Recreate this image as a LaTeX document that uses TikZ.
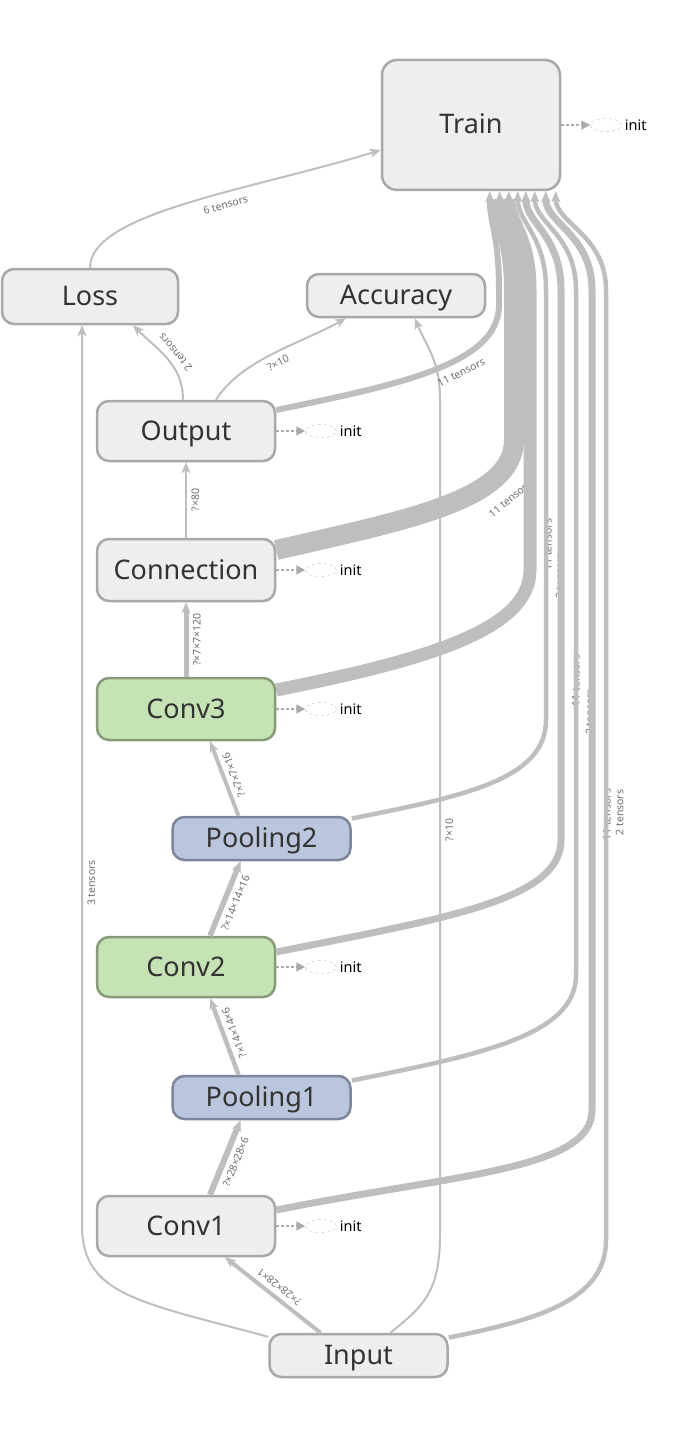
\documentclass[tikz,border=0pt]{standalone}
\usepackage{fontspec}
\setmainfont{Noto Sans}
\usetikzlibrary{arrows.meta,positioning,shapes.geometric}

\definecolor{edgegray}{RGB}{190,190,190}
\definecolor{boxgray}{RGB}{238,238,238}
\definecolor{boxline}{RGB}{168,168,168}
\definecolor{convfill}{RGB}{197,227,181}
\definecolor{convline}{RGB}{135,155,120}
\definecolor{poolfill}{RGB}{186,197,222}
\definecolor{poolline}{RGB}{125,134,155}
\definecolor{labelgray}{RGB}{110,110,110}
\definecolor{initgray}{RGB}{170,170,170}

\begin{document}
\begin{tikzpicture}[x=1pt, y=-1pt,
    op/.style={draw=boxline, fill=boxgray, line width=2.5pt, rounded corners=12pt,
        minimum width=178pt, minimum height=60pt, inner sep=0pt, text=black!80,
        font=\fontsize{27}{30}\selectfont, text height=19pt, text depth=1pt},
    conv/.style={op, draw=convline, fill=convfill},
    pool/.style={op, draw=poolline, fill=poolfill, minimum height=43pt},
    flow/.style={draw=edgegray, -{Stealth[length=11pt, width=9pt, inset=3pt, line width=0.5pt]}},
    lbl/.style={font=\fontsize{10.5}{11}\selectfont, text=labelgray, sloped, allow upside down, inner sep=1.5pt},
    initoval/.style={draw=edgegray, dashed, ellipse, minimum width=31pt, minimum height=13pt, inner sep=0pt},
    initlink/.style={draw=initgray, densely dashed, line width=1.5pt, -{Triangle[length=9pt, width=9pt]}},
    inittext/.style={font=\fontsize{14.5}{16}\selectfont, inner sep=1pt},
]
\useasboundingbox (0,0) rectangle (697,1442);

% the operations of the network
\node[op, minimum height=130pt, rounded corners=15pt] (Train) at (471,125) {Train};
\node[op, minimum width=176pt, minimum height=55pt] (Loss) at (90,296.5) {Loss};
\node[op, minimum height=43pt] (Accuracy) at (396,295.5) {Accuracy};
\node[op] (Output) at (186,431) {Output};
\node[op, minimum height=62pt] (Connection) at (186,570) {Connection};
\node[conv, minimum height=62pt] (Conv3) at (186,709) {Conv3};
\node[pool] (Pooling2) at (261.5,838.5) {Pooling2};
\node[conv] (Conv2) at (186,967) {Conv2};
\node[pool] (Pooling1) at (261.5,1097.5) {Pooling1};
\node[op] (Conv1) at (186,1226) {Conv1};
\node[op, minimum height=43pt] (Input) at (358.5,1355.5) {Input};

% init nodes on the right of the layers with variables
\foreach \v in {Train,Output,Connection,Conv3,Conv2,Conv1} {
    \node[initoval, right=29pt of \v] (\v-init) {};
    \node[inittext, right=2pt of \v-init] (\v-word) {init};
    \draw[initlink] (\v) -- (\v-init);
}

% tensors going up the stack
\foreach \from/\fx/\to/\tx/\lw/\txt in {
    Input/-38/Conv1/39/4/?×28×28×1,
    Conv1/24/Pooling1/-21/6/?×28×28×6,
    Pooling1/-23/Conv2/24/4.5/?×14×14×6,
    Conv2/24/Pooling2/-21/5.5/?×14×14×16,
    Pooling2/-23/Conv3/24/4/?×7×7×16,
    Conv3/0/Connection/0/5/?×7×7×120,
    Connection/0/Output/0/2/?×80}
    \draw[flow, line width=\lw pt] ([xshift=\fx pt]\from.north) -- node[lbl, below=3pt] {\txt} ([xshift=\tx pt]\to.south);

% side branches to Loss and Accuracy
\draw[flow, line width=2pt] ([xshift=-3pt]Output.north) .. controls +(0,-35) and +(25,25) .. ([xshift=43pt]Loss.south)
    node[lbl, below=4pt, pos=0.5] {2 tensors};
\draw[flow, line width=2pt] ([xshift=30pt]Output.north) .. controls +(25,-40) and +(-45,25) .. ([xshift=-50pt]Accuracy.south)
    node[lbl, below=4pt, pos=0.5] {?×10};
\draw[flow, line width=2pt] (Loss.north) .. controls +(0,-55) and +(-130,40) .. ([yshift=-25pt]Train.west)
    node[lbl, below=6pt, pos=0.6] {6 tensors};
\draw[flow, line width=2pt] ([yshift=-4pt]Input.north west) .. controls +(-130,-35) and +(0,70) .. (82,1225)
    -- node[lbl, below=3pt, pos=0.38] {3 tensors} ([xshift=-8pt]Loss.south);
\draw[flow, line width=2pt] ([xshift=32pt]Input.north) .. controls +(30,-25) and +(0,60) .. (440,1235)
    -- node[lbl, below=3pt, pos=0.485] {?×10} (440,400) .. controls +(0,-40) and +(12,30) .. ([xshift=19pt]Accuracy.south);

% everything feeding the Train step
\draw[flow, line width=6pt] ([yshift=21pt]Output.east) .. controls +(120,-25) and +(0,60) .. (499,305)
    node[lbl, below=5pt, pos=0.6] {11 tensors}
    -- (499,290) .. controls +(0,-55) and +(0,32) .. ([xshift=109pt]Train.south west);
\draw[flow, line width=20pt] ([yshift=20pt]Connection.east) .. controls +(130,-30) and +(0,60) .. (514,440)
    node[lbl, below=10pt, pos=0.74] {11 tensors}
    -- (514,290) .. controls +(0,-55) and +(0,32) .. ([xshift=119pt]Train.south west);
\foreach \src/\dy/\cx/\vx/\bend/\ex/\lw/\txt/\lpos in {
    Conv3/19/150/530/570/128/13/11 tensors/0.09,
    Pooling2/20/110/546/720/137/4.5/2 tensors/0.335,
    Conv2/15/170/561/840/145/7/11 tensors/0.29,
    Pooling1/17/130/576/975/154/4.5/2 tensors/0.384,
    Conv1/16/180/592/1110/165/7/11 tensors/0.36,
    Input/18/90/606/1240/175/4.5/2 tensors/0.45}
    \draw[flow, line width=\lw pt] ([yshift=\dy pt]\src.east) .. controls +(\cx,-0.2*\cx) and +(0,60) .. (\vx,\bend)
        -- node[lbl, below=6pt, pos=\lpos] {\txt} (\vx,290) .. controls +(0,-55) and +(0,32) .. ([xshift=\ex pt]Train.south west);

\end{tikzpicture}
\end{document}
